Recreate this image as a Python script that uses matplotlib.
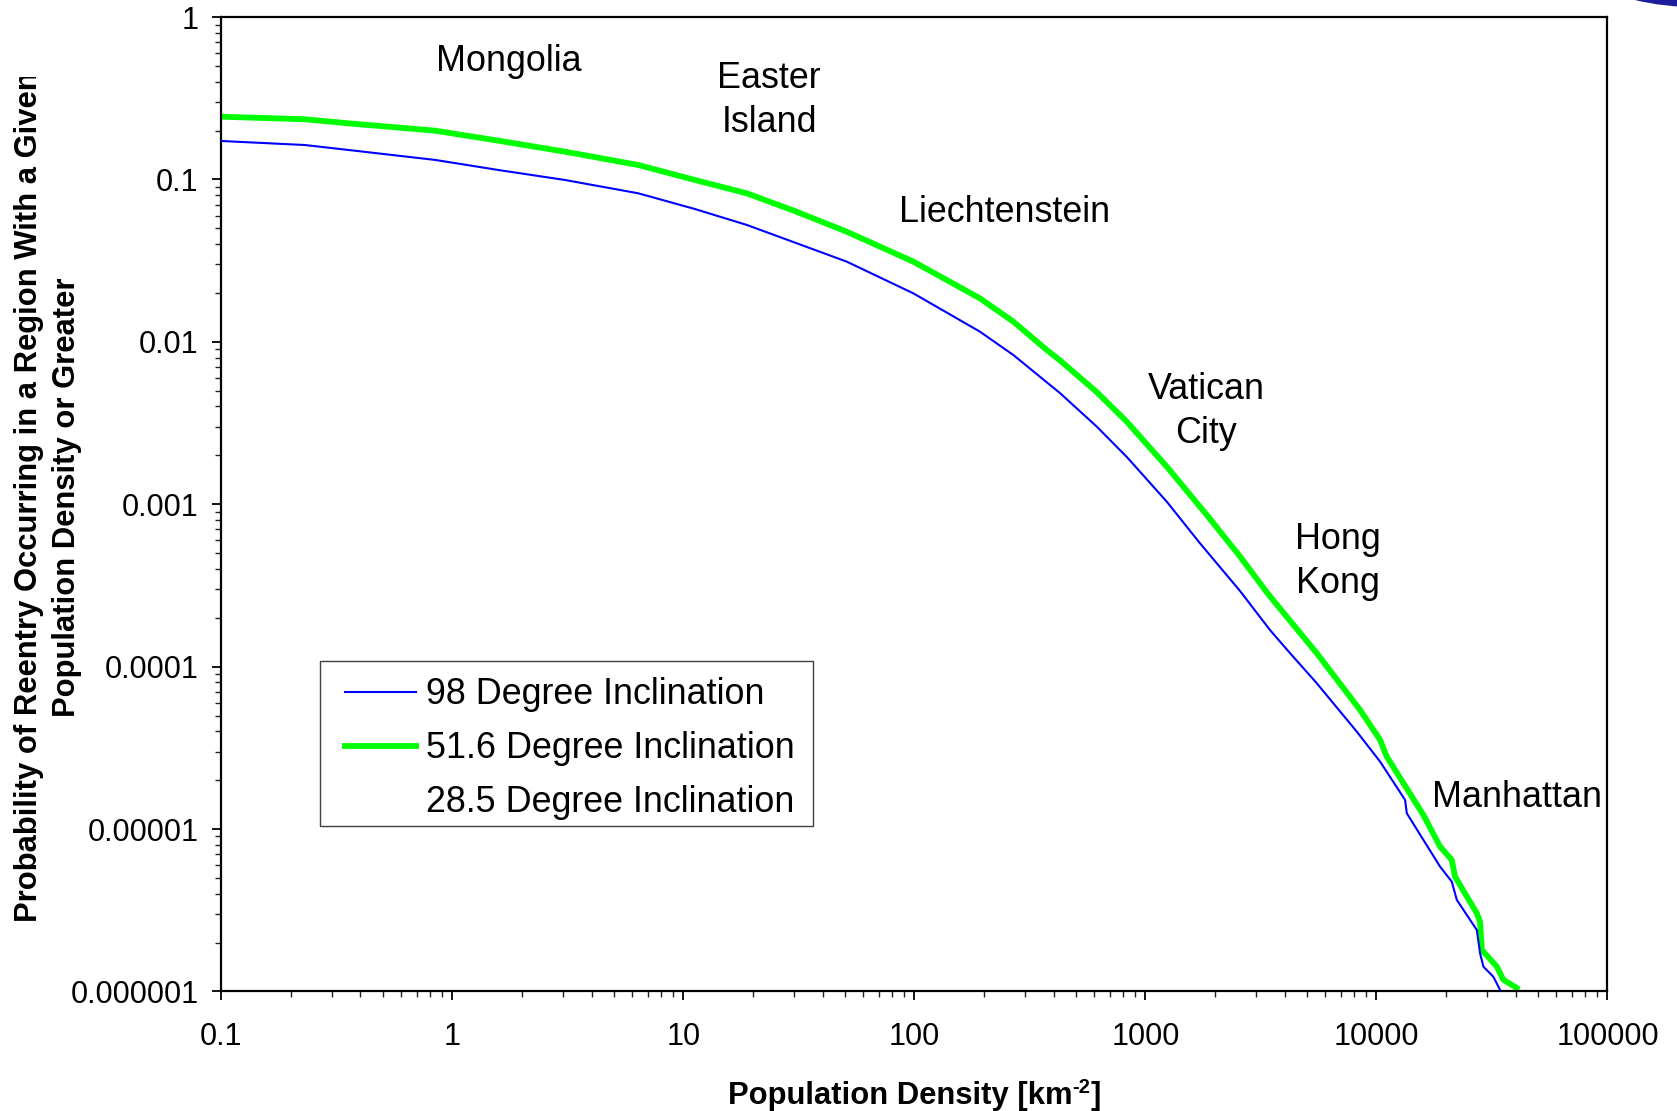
import numpy as np
import matplotlib
matplotlib.use("Agg")
import matplotlib.pyplot as plt
from matplotlib.patches import Rectangle, Ellipse
from matplotlib.ticker import LogLocator, NullFormatter
from matplotlib.transforms import Bbox, TransformedBbox

plt.rcParams["font.family"] = ["Liberation Sans", "DejaVu Sans"]

# Complementary cumulative distribution of reentry location vs. population density
density_98 = [0.1, 0.230, 0.354, 0.841, 1.58, 3.07, 6.38, 11.2, 18.8, 30.9, 50.9,
              98.9, 192, 268, 427, 615, 829, 1236, 1722, 2568, 3460,
              4226, 5515, 8215, 10366, 13300, 13530, 15960, 18840, 21180, 22270,
              27180, 28070, 29030, 32070, 34280]
prob_98 = [0.1726, 0.163, 0.152, 0.132, 0.1144, 0.0993, 0.0822, 0.0658, 0.0525, 0.0405, 0.0312,
           0.0199, 0.01156, 0.0083, 0.00483, 0.00301, 0.00196, 0.001038, 0.000575, 0.000292, 0.000168,
           0.000121, 7.9e-5, 3.98e-5, 2.60e-5, 1.51e-5, 1.25e-5, 8.57e-6, 5.87e-6, 4.74e-6, 3.66e-6,
           2.39e-6, 1.72e-6, 1.42e-6, 1.23e-6, 1.02e-6]

density_516 = [0.1, 0.230, 0.354, 0.841, 1.58, 3.07, 6.38, 11.2, 18.8, 30.9, 50.9,
               98.9, 192, 268, 374, 427, 615, 829, 1236, 1843, 2568,
               3350, 3954, 5515, 8490, 10366, 11080, 15960, 18840, 21180, 21880,
               27180, 28070, 28580, 33190, 35400, 40460]
prob_516 = [0.2436, 0.2348, 0.2218, 0.1998, 0.1734, 0.1483, 0.1228, 0.0993, 0.0822, 0.0633, 0.0477,
            0.0312, 0.01855, 0.01332, 0.00891, 0.00768, 0.00491, 0.00323, 0.001705, 0.000859, 0.000476,
            0.000287, 0.000215, 0.000121, 5.41e-5, 3.54e-5, 2.79e-5, 1.22e-5, 7.8e-6, 6.45e-6, 5.09e-6,
            3.03e-6, 2.69e-6, 1.80e-6, 1.42e-6, 1.18e-6, 1.05e-6]

density_285 = []
prob_285 = []

series_labels = ["98 Degree Inclination", "51.6 Degree Inclination", "28.5 Degree Inclination"]

x_ticks = [0.1, 1, 10, 100, 1000, 10000, 100000]
x_tick_labels = ["0.1", "1", "10", "100", "1000", "10000", "100000"]
y_ticks = [1, 0.1, 0.01, 0.001, 0.0001, 0.00001, 0.000001]
y_tick_labels = ["1", "0.1", "0.01", "0.001", "0.0001", "0.00001", "0.000001"]

# Reference places and their approximate population density / label height
places = ["Mongolia", "Easter\nIsland", "Liechtenstein", "Vatican\nCity", "Hong\nKong", "Manhattan"]
place_density = [1.76, 23.5, 245, 1837, 6820, 40450]
place_label_y = [0.535, 0.306, 0.0624, 0.00371, 0.000445, 1.56e-5]

W, H = 1677, 1111
fig = plt.figure(figsize=(W / 100, H / 100), dpi=100)
fig.patch.set_facecolor("white")

ax = fig.add_axes([221.4 / W, (H - 991.4) / H, 1386.1 / W, 974.3 / H])
ax.set_xscale("log")
ax.set_yscale("log")
ax.set_xlim(0.1, 100000)
ax.set_ylim(0.000001, 1)

l98, = ax.plot(density_98, prob_98, color="#0000ff", lw=1.5, label=series_labels[0], zorder=3)
l516, = ax.plot(density_516, prob_516, color="#00ff00", lw=4.2, label=series_labels[1], zorder=2)
l285, = ax.plot(density_285, prob_285, color="white", lw=1.5, label=series_labels[2])

for name, xd, yd in zip(places, place_density, place_label_y):
    ax.text(xd, yd, name, ha="center", va="center", fontsize=25.8, linespacing=1.32)

ax.set_xticks(x_ticks, x_tick_labels)
ax.set_yticks(y_ticks, y_tick_labels)
ax.xaxis.set_minor_locator(LogLocator(base=10, subs=np.arange(2, 10), numticks=100))
ax.yaxis.set_minor_locator(LogLocator(base=10, subs=np.arange(2, 10), numticks=100))
ax.xaxis.set_minor_formatter(NullFormatter())
ax.yaxis.set_minor_formatter(NullFormatter())
ax.tick_params(which="major", direction="out", length=6.5, width=1.3, labelsize=22, colors="black")
ax.tick_params(which="minor", direction="out", length=4.3, width=1.0, colors="#222222")
ax.tick_params(axis="x", which="major", pad=15.5)
ax.tick_params(axis="y", which="major", pad=10)
for sp in ax.spines.values():
    sp.set_linewidth(1.6)
    sp.set_color("black")

# Legend frame and entries
ax.add_patch(Rectangle((0.071, 0.170), 0.3557, 0.169, transform=ax.transAxes,
                       facecolor="white", edgecolor="#404040", lw=1.0, zorder=4))
ax.legend(handles=[l98, l516, l285], loc="upper left", bbox_to_anchor=(0.0892, 0.3222),
          borderaxespad=0, borderpad=0, frameon=False, fontsize=25.8,
          handlelength=1.98, handletextpad=0.27, labelspacing=0.53)

# X-axis title with a superscript exponent
renderer = fig.canvas.get_renderer()
base_y = 7
title_parts = [("Population Density [km", 22.3, 0), ("-2", 14.5, 11), ("]", 22.3, 0)]
part_texts = []
for s, fs, dy in title_parts:
    t = fig.text(0, (base_y + dy) / H, s, ha="left", va="baseline", fontsize=fs, fontweight="bold")
    part_texts.append(t)
widths = [t.get_window_extent(renderer).width for t in part_texts]
x_cursor = 914.5 - sum(widths) / 2
for t, w in zip(part_texts, widths):
    t.set_x(x_cursor / W)
    x_cursor += w

# Y-axis title in two lines, the first cropped at the top
y_line1 = fig.text(29 / W, 1 - 497 / H, "Probability of Reentry Occurring in a Region With a Given",
                   rotation=90, ha="center", va="center", fontsize=22.3, fontweight="bold")
y_line1.set_clip_box(TransformedBbox(Bbox([[0, 0], [1, 1 - 77 / H]]), fig.transFigure))
fig.text(67 / W, 1 - 497 / H, "Population Density or Greater",
         rotation=90, ha="center", va="center", fontsize=22.3, fontweight="bold")

# Corner emblem
fig.add_artist(Ellipse((1705 / W, 1 + 20 / H), 204 / W, 55 / H, transform=fig.transFigure,
                       facecolor="#1c1c9c", edgecolor="none"))

fig.savefig("out.png", dpi=100)
